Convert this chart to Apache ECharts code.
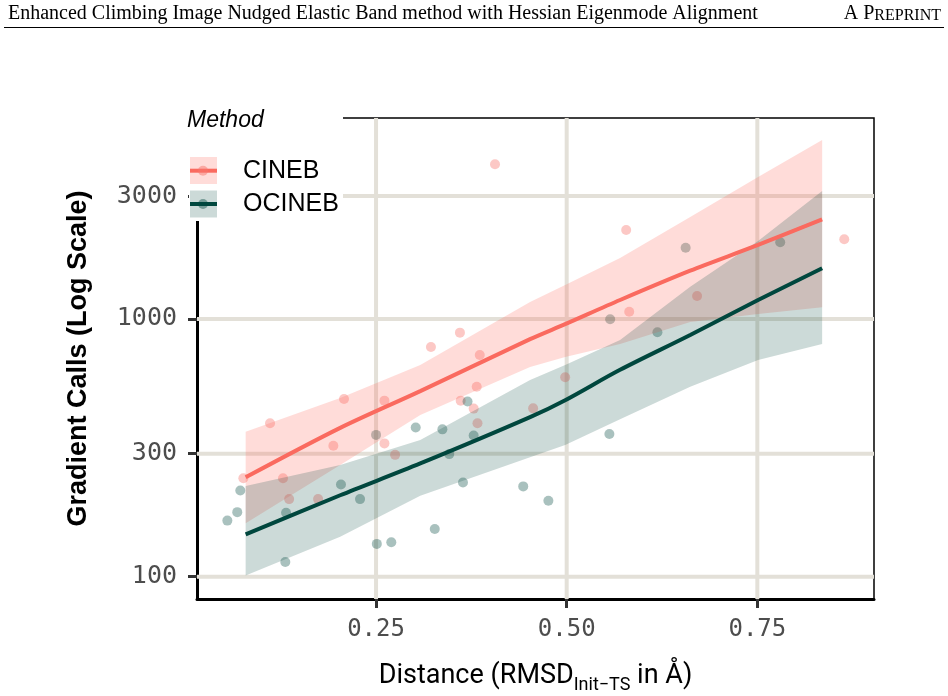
<!DOCTYPE html>
<html>
<head>
<meta charset="utf-8">
<script src="https://cdn.jsdelivr.net/npm/echarts@6/dist/echarts.min.js"></script>
<style>
  html, body { margin: 0; padding: 0; background: #fff; }
  #main { width: 948px; height: 696px; }
</style>
</head>
<body>
<div id="main"></div>
<script>
// scatter points: [distance (RMSD, Å), gradient calls]
const cinebPoints = [
  [0.076, 241], [0.111, 394], [0.128, 241], [0.136, 200], [0.174, 200],
  [0.194, 322], [0.208, 489], [0.261, 482], [0.261, 329], [0.275, 297],
  [0.322, 779], [0.360, 885], [0.361, 482], [0.378, 449], [0.382, 546],
  [0.383, 394], [0.386, 725], [0.406, 3983], [0.456, 450], [0.498, 594],
  [0.578, 2215], [0.582, 1067], [0.671, 1229], [0.864, 2039]
];
const ocinebPoints = [
  [0.055, 165], [0.068, 178], [0.072, 216], [0.131, 114], [0.132, 177],
  [0.204, 228], [0.229, 200], [0.250, 355], [0.251, 134], [0.270, 136],
  [0.302, 379], [0.327, 153], [0.337, 373], [0.346, 299], [0.364, 232],
  [0.370, 478], [0.378, 353], [0.443, 224], [0.476, 197], [0.556, 358],
  [0.557, 997], [0.619, 888], [0.656, 1891], [0.780, 1985]
];

// smoothed fits and their ribbons
const fitX = [0.079, 0.203, 0.308, 0.452, 0.498, 0.570, 0.662, 0.751, 0.835];
const cinebFit = [243, 378, 525, 835, 955, 1185, 1540, 1938, 2437];
const cinebUpper = [365, 494, 663, 1164, 1355, 1725, 2488, 3556, 4950];
const cinebLower = [161, 271, 424, 651, 712, 800, 974, 1046, 1110];
const ocinebFit = [146, 207, 275, 416, 484, 635, 867, 1185, 1573];
const ocinebUpper = [225, 271, 339, 580, 663, 829, 1335, 2008, 3138];
const ocinebLower = [101, 143, 206, 291, 324, 408, 546, 693, 800];

const xTicks = [0.25, 0.5, 0.75];
const yTicks = [100, 300, 1000, 3000];

const xMin = 0.0152, xMax = 0.903;
const yMin = 81.9, yMax = 6026;

const red = '#FA6A5F';
const green = '#00473E';
const gridColor = '#e3e0d8';
const tickFont = '"DejaVu Sans Mono", monospace';

const chart = echarts.init(document.getElementById('main'));

function ribbon(upper, lower, fill) {
  return function (params, api) {
    const pts = [];
    for (let i = 0; i < fitX.length; i++) pts.push(api.coord([fitX[i], upper[i]]));
    for (let i = fitX.length - 1; i >= 0; i--) pts.push(api.coord([fitX[i], lower[i]]));
    return { type: 'polygon', shape: { points: pts }, style: { fill: fill } };
  };
}

const option = {
  animation: false,
  grid: {
    left: 197, right: 74, top: 118, bottom: 97,
    outerBoundsMode: 'none', containLabel: false,
    show: true, borderColor: '#000', borderWidth: 1.5, backgroundColor: 'transparent'
  },
  xAxis: {
    type: 'value', min: xMin, max: xMax,
    axisLine: { show: true, lineStyle: { color: '#000', width: 3 } },
    axisTick: { show: true, customValues: xTicks, length: 9, lineStyle: { color: '#333', width: 3 } },
    axisLabel: {
      customValues: xTicks, margin: 19, fontSize: 24, color: '#4d4d4d', fontFamily: tickFont,
      formatter: v => v.toFixed(2)
    },
    splitLine: { show: false },
    name: '{a|Distance (RMSD}{s|Init\u2212TS}{a| in \u00c5)}',
    nameLocation: 'middle',
    nameGap: 59,
    nameTextStyle: {
      rich: {
        a: { fontSize: 27, fontFamily: 'Roboto', color: '#000', lineHeight: 36 },
        s: { fontSize: 18, fontFamily: 'Roboto', color: '#000', lineHeight: 18, verticalAlign: 'bottom' }
      }
    }
  },
  yAxis: {
    type: 'log', logBase: 10, min: yMin, max: yMax,
    axisLine: { show: true, lineStyle: { color: '#000', width: 3 } },
    axisTick: { show: true, customValues: yTicks, length: 9, lineStyle: { color: '#333', width: 3 } },
    axisLabel: {
      customValues: yTicks, margin: 20, fontSize: 25, color: '#4d4d4d', fontFamily: tickFont,
      formatter: v => String(Math.round(v))
    },
    splitLine: { show: false },
    name: 'Gradient Calls (Log Scale)',
    nameLocation: 'middle',
    nameRotate: 90,
    nameGap: 105,
    nameTextStyle: { fontSize: 27, fontWeight: 'bold', fontFamily: 'Liberation Sans', color: '#000' }
  },
  series: [
    {
      type: 'custom', silent: true, z: 1,
      data: yTicks.map(v => [xMin, v]),
      renderItem: (params, api) => {
        const a = api.coord([xMin, api.value(1)]);
        const b = api.coord([xMax, api.value(1)]);
        return { type: 'line', shape: { x1: a[0], y1: a[1], x2: b[0], y2: b[1] }, style: { stroke: gridColor, lineWidth: 4 } };
      }
    },
    {
      type: 'custom', silent: true, z: 1,
      data: xTicks.map(v => [v, yMin]),
      renderItem: (params, api) => {
        const a = api.coord([api.value(0), yMin]);
        const b = api.coord([api.value(0), yMax]);
        return { type: 'line', shape: { x1: a[0], y1: a[1], x2: b[0], y2: b[1] }, style: { stroke: gridColor, lineWidth: 4 } };
      }
    },
    {
      name: 'CINEB', type: 'scatter', z: 2, symbolSize: 10,
      itemStyle: { color: 'rgba(248,118,109,0.5)' },
      data: cinebPoints
    },
    {
      name: 'OCINEB', type: 'scatter', z: 2, symbolSize: 10,
      itemStyle: { color: 'rgba(0,71,62,0.42)' },
      data: ocinebPoints
    },
    {
      type: 'custom', silent: true, z: 3,
      data: [[fitX[0], cinebFit[0]]],
      renderItem: ribbon(cinebUpper, cinebLower, 'rgba(255,107,97,0.24)')
    },
    {
      type: 'custom', silent: true, z: 4,
      data: [[fitX[0], ocinebFit[0]]],
      renderItem: ribbon(ocinebUpper, ocinebLower, 'rgba(0,71,62,0.2)')
    },
    {
      type: 'line', z: 5, showSymbol: false, silent: true, smooth: 0.3,
      lineStyle: { color: red, width: 4 },
      data: fitX.map((x, i) => [x, cinebFit[i]])
    },
    {
      type: 'line', z: 6, showSymbol: false, silent: true, smooth: 0.3,
      lineStyle: { color: green, width: 4 },
      data: fitX.map((x, i) => [x, ocinebFit[i]])
    }
  ],
  graphic: [
    // running header
    {
      type: 'text', x: 8, y: 14, z: 100,
      style: { text: 'Enhanced Climbing Image Nudged Elastic Band method with Hessian Eigenmode Alignment',
        fontSize: 20, fontFamily: 'Liberation Serif', fill: '#000', verticalAlign: 'middle' }
    },
    {
      type: 'text', x: 941, y: 14, z: 100,
      style: {
        text: '{a|A P}{b|REPRINT}', align: 'right', verticalAlign: 'middle',
        rich: {
          a: { fontSize: 20, fontFamily: 'Liberation Serif', lineHeight: 20, verticalAlign: 'bottom' },
          b: { fontSize: 16, fontFamily: 'Liberation Serif', lineHeight: 16, verticalAlign: 'bottom' }
        }
      }
    },
    { type: 'line', z: 100, shape: { x1: 4, y1: 27.5, x2: 944, y2: 27.5 }, style: { stroke: '#000', lineWidth: 1 } },
    // legend
    { type: 'rect', z: 100, shape: { x: 189, y: 100, width: 154, height: 121 }, style: { fill: '#fff' } },
    {
      type: 'text', x: 187, y: 121, z: 101,
      style: { text: 'Method', fontSize: 23, fontStyle: 'italic', fontFamily: 'Liberation Sans', fill: '#000', verticalAlign: 'middle' }
    },
    { type: 'rect', z: 101, shape: { x: 190, y: 157, width: 27, height: 27 }, style: { fill: 'rgba(255,107,97,0.24)' } },
    { type: 'line', z: 102, shape: { x1: 190, y1: 170.7, x2: 217, y2: 170.7 }, style: { stroke: red, lineWidth: 4 } },
    { type: 'circle', z: 103, shape: { cx: 203, cy: 170.7, r: 5 }, style: { fill: 'rgba(248,118,109,0.5)' } },
    {
      type: 'text', x: 243, y: 171, z: 101,
      style: { text: 'CINEB', fontSize: 25, fontFamily: 'Liberation Sans', fill: '#000', verticalAlign: 'middle' }
    },
    { type: 'rect', z: 101, shape: { x: 190, y: 190.5, width: 27, height: 27 }, style: { fill: 'rgba(0,71,62,0.2)' } },
    { type: 'line', z: 102, shape: { x1: 190, y1: 204, x2: 217, y2: 204 }, style: { stroke: green, lineWidth: 4 } },
    { type: 'circle', z: 103, shape: { cx: 203, cy: 204, r: 5 }, style: { fill: 'rgba(0,71,62,0.42)' } },
    {
      type: 'text', x: 243, y: 204.5, z: 101,
      style: { text: 'OCINEB', fontSize: 25, fontFamily: 'Liberation Sans', fill: '#000', verticalAlign: 'middle' }
    }
  ]
};

chart.setOption(option);
</script>
</body>
</html>
